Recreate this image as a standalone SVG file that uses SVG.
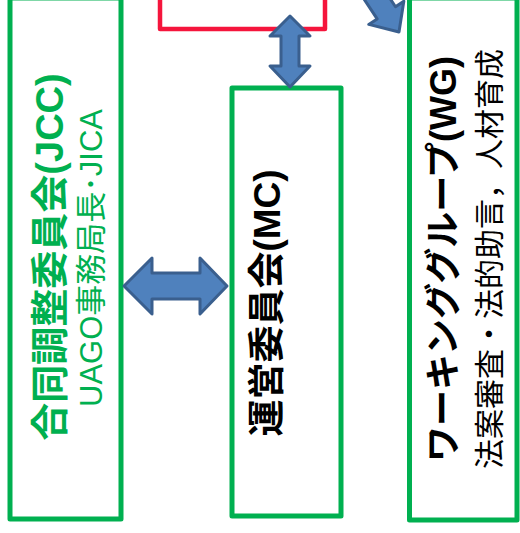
<svg xmlns="http://www.w3.org/2000/svg" width="520" height="533" viewBox="0 0 520 533">
<style>
.box{fill:#FFFFFF;stroke:#00B050;stroke-width:5;stroke-linejoin:round}
.red{fill:#FFFFFF;stroke:#F5153C;stroke-width:4.5;stroke-linejoin:round}
.arr{fill:#4F81BD;stroke:#3A5F8E;stroke-width:3;stroke-linejoin:round}
text{font-family:"Liberation Sans","Noto Sans CJK JP",sans-serif;text-anchor:middle}
.t{font-weight:bold;font-size:37px}
.s{font-size:30px}
.g{fill:#00B050}
.k{fill:#000000}
</style>
<rect width="520" height="533" fill="#FFFFFF"/>
<g id="top">
<rect class="red" x="160" y="-30" width="165" height="59"/>
</g>
<g id="jcc">
<rect class="box" x="10" y="-2" width="111" height="521"/>
<text class="t g" transform="translate(63,257) rotate(-90)" style="font-size:38px">合同調整委員会(JCC)</text>
<text class="s g" transform="translate(102,258) rotate(-90)" style="font-size:31px">UAGO事務局長･JICA</text>
</g>
<g id="mc">
<rect class="box" x="232" y="88" width="109" height="428"/>
<text class="t k" transform="translate(280,303) rotate(-90)">運営委員会(MC)</text>
</g>
<g id="wg">
<rect class="box" x="409.5" y="-2" width="107.5" height="522"/>
<text class="t k" transform="translate(456,259) rotate(-90)" style="font-size:36px">ワーキンググループ(WG)</text>
<text class="s k" transform="translate(500,259) rotate(-90)">法案審査・法的助言，人材育成</text>
</g>
<g id="connectors">
<path class="arr" d="M290,16 L310,36 L299,36 L299,66 L310,66 L290,87 L270,66 L281,66 L281,36 L270,36 Z"/>
<path class="arr" d="M124,286 L152,258 L152,273 L200,273 L200,258 L227,286 L200,314 L200,299 L152,299 L152,314 Z"/>
<path class="arr" transform="translate(399,32) rotate(56.5)" d="M0,0 L-23,-21 L-23,-11 L-80,-11 L-80,11 L-23,11 L-23,21 Z"/>
</g>
</svg>
